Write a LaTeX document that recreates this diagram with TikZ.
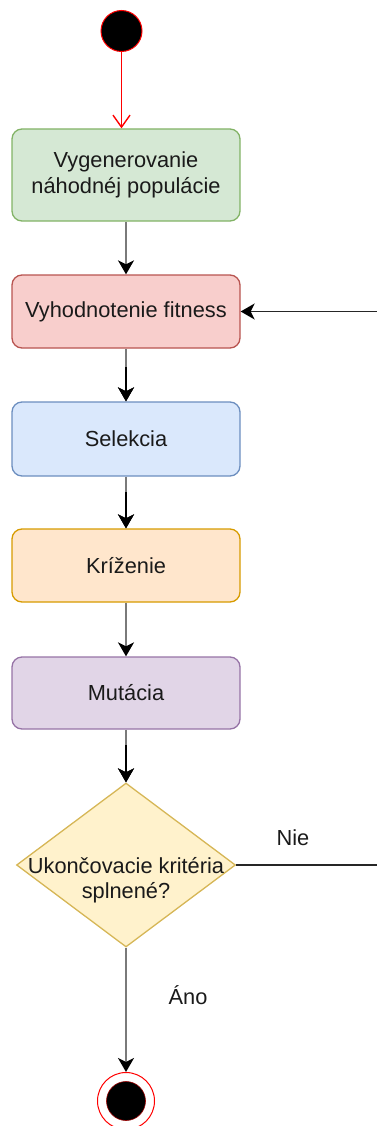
\documentclass[tikz,border=0pt]{standalone}
\usepackage{fontspec}
\setmainfont{Liberation Sans}
\usetikzlibrary{arrows.meta,shapes.geometric}

\definecolor{txt}{HTML}{1A1A1A}
\definecolor{greenfill}{HTML}{D5E8D4}\definecolor{greenline}{HTML}{82B366}
\definecolor{redfill}{HTML}{F8CECC}\definecolor{redline}{HTML}{B85450}
\definecolor{bluefill}{HTML}{DAE8FC}\definecolor{blueline}{HTML}{6C8EBF}
\definecolor{orangefill}{HTML}{FFE6CC}\definecolor{orangeline}{HTML}{D79B00}
\definecolor{purplefill}{HTML}{E1D5E7}\definecolor{purpleline}{HTML}{9673A6}
\definecolor{yellowfill}{HTML}{FFF2CC}\definecolor{yellowline}{HTML}{D6B656}
\definecolor{edgegray}{HTML}{7A7A7A}

\tikzset{
  x=1pt, y=-1pt,
  txtstyle/.style={font=\fontsize{21.8}{25.5}\selectfont, text=txt, align=center},
  stepbox/.style={txtstyle, rectangle, rounded corners=10pt, line width=1.3pt,
    minimum width=228pt, inner sep=0pt},
  decision/.style={diamond, draw=yellowline, fill=yellowfill, line width=1.3pt,
    minimum width=219pt, minimum height=164pt, inner sep=0pt},
  tip/.style={-{Stealth[length=14pt,width=16pt,inset=4pt,black]}},
  flow/.style={draw=edgegray, line width=2pt, tip},
  flowdark/.style={draw=black, line width=2pt, tip},
  loopline/.style={draw=black!85, line width=1.5pt},
  startarrow/.style={draw=red, line width=1.4pt, -{Straight Barb[length=12pt,width=17pt,line width=1.4pt]}},
  lbl/.style={font=\fontsize{21.8}{25.5}\selectfont, text=txt}
}

\begin{document}
\begin{tikzpicture}
\useasboundingbox (0,0) rectangle (377,1126);

% initial state
\node[circle, fill=black, draw=red, line width=1pt, minimum size=41pt, inner sep=0pt] (start) at (121.5,31) {};

% process steps
\node[stepbox, draw=greenline, fill=greenfill, minimum height=92pt] (gen) at (126,175)
  {Vygenerovanie\\náhodnéj populácie};
\node[stepbox, draw=redline, fill=redfill, minimum height=73pt] (eval) at (126,311.5)
  {Vyhodnotenie fitness};
\node[stepbox, draw=blueline, fill=bluefill, minimum height=74pt] (sel) at (126,439)
  {Selekcia};
\node[stepbox, draw=orangeline, fill=orangefill, minimum height=73pt] (cross) at (126,565.5)
  {Kríženie};
\node[stepbox, draw=purpleline, fill=purplefill, minimum height=72pt] (mut) at (126,693)
  {Mutácia};

% termination check
\node[decision] (check) at (126,865) {};
\node[txtstyle, inner sep=0pt] (checktext) at (126,880) {Ukončovacie kritéria\\splnené?};

% final state
\node[circle, draw=red, fill=white, line width=1pt, minimum size=57pt, inner sep=0pt] (final) at (126,1101) {};
\node[circle, fill=black, draw=red!60!black, line width=0.6pt, minimum size=39pt, inner sep=0pt] (finalcore) at (final) {};

% branch labels
\node[lbl] (no) at (293,838) {Nie};
\node[lbl] (yes) at (188,995) {Áno};

% helper points for the loop and the dark edge ends
\coordinate (loopend) at (377,865);
\coordinate (loopin) at (377,311.5);
\coordinate (d1) at (126,367);
\coordinate (d2) at (126,492);
\coordinate (d3) at (126,745);

% connectors
\draw[startarrow] (start) -- (start |- gen.north);
\draw[flow] (gen) -- (eval);
\draw[flow] (eval) -- (sel);
\draw[flowdark] (d1) -- (sel.north);
\draw[flow] (sel) -- (cross);
\draw[flowdark] (d2) -- (cross.north);
\draw[flow] (cross) -- (mut);
\draw[flow] (mut.south) -- (check.north);
\draw[flowdark] (d3) -- (check.north);
\draw[flow] (check.south) -- (final.north);

% loop back when the criteria are not met
\draw[loopline] (check.east) -- (loopend);
\draw[loopline, tip] (loopin) -- (eval.east);
\end{tikzpicture}
\end{document}
